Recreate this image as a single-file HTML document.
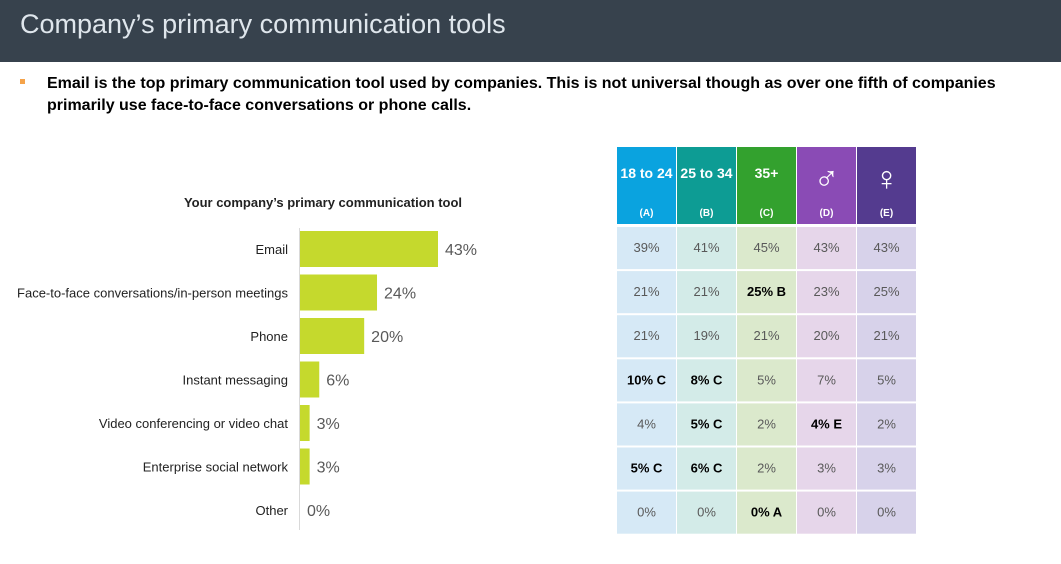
<!DOCTYPE html>
<html><head><meta charset="utf-8">
<style>
body{margin:0;width:1061px;height:564px;background:#fff;overflow:hidden;font-family:"Liberation Sans",sans-serif;}
svg{display:block}
</style></head><body>
<svg id="c" width="1061" height="564" xmlns="http://www.w3.org/2000/svg">
<rect x="0" y="0" width="1061" height="62" fill="#37424d"/>
<text x="20" y="33" font-size="27" fill="#dfe6ec">Company’s primary communication tools</text>
<rect x="20" y="79" width="5" height="5" fill="#f5a34a"/>
<text x="47" y="88" font-size="16" font-weight="bold" fill="#000">Email is the top primary communication tool used by companies. This is not universal though as over one fifth of companies</text>
<text x="47" y="110" font-size="16" font-weight="bold" fill="#000">primarily use face-to-face conversations or phone calls.</text>
<text x="323" y="207" font-size="13" font-weight="bold" fill="#222" text-anchor="middle">Your company’s primary communication tool</text>
<line x1="299.5" y1="228" x2="299.5" y2="530" stroke="#d9d9d9"/>
<g id="bars"></g>
<g id="table"></g>
</svg>
<script>
const categories=["Email","Face-to-face conversations/in-person meetings","Phone","Instant messaging","Video conferencing or video chat","Enterprise social network","Other"];
const values=[43,24,20,6,3,3,0];
const colHeaders=["18 to 24","25 to 34","35+","♂","♀"];
const colLetters=["(A)","(B)","(C)","(D)","(E)"];
const tableVals=[
["39%","41%","45%","43%","43%"],
["21%","21%","25% B","23%","25%"],
["21%","19%","21%","20%","21%"],
["10% C","8% C","5%","7%","5%"],
["4%","5% C","2%","4% E","2%"],
["5% C","6% C","2%","3%","3%"],
["0%","0%","0% A","0%","0%"]];
const NS="http://www.w3.org/2000/svg";
function mk(t,a,p){const e=document.createElementNS(NS,t);for(const k in a)e.setAttribute(k,a[k]);p.appendChild(e);return e;}
const x0=300,scale=138/43,yTop=249,step=43.5,bh=36;
const xS=v=>x0+v*scale, yS=i=>yTop+i*step;
const bars=document.getElementById('bars');
categories.forEach((c,i)=>{
 const r=mk('rect',{x:x0,y:yS(i)-bh/2,width:Math.max(xS(values[i])-x0,0),height:bh,fill:'#c5d92d'},bars);
 
 
 const l=mk('text',{x:288,y:yS(i)+5,'font-size':13,'text-anchor':'end',fill:'#222'},bars);l.textContent=c;
 
 
 const v=mk('text',{x:xS(values[i])+7,y:yS(i)+6,'font-size':16,fill:'#595959'},bars);v.textContent=values[i]+'%';
 
 
});
const tb=document.getElementById('table');
const colX=[617,677,737,797,857],cw=59;
const headCol=["#0aa3df","#0d9c94","#33a12e","#8a4bb5","#543b8f"];
const cellCol=["#d6e9f6","#d3ebe8","#dbe9cc","#e6d6ea","#d7d2ea"];
colHeaders.forEach((h,j)=>{
 const r=mk('rect',{x:colX[j],y:147,width:cw,height:77,fill:headCol[j]},tb);
 
 
 const sym=j>=3;
 const t=mk('text',{x:colX[j]+cw/2,y:sym?190:178,'font-size':sym?34:14,'font-weight':sym?'normal':'bold','text-anchor':'middle',fill:'#fff'},tb);t.textContent=h;
 
 
 const s=mk('text',{x:colX[j]+cw/2,y:216,'font-size':10,'font-weight':'bold','text-anchor':'middle',fill:'#fff'},tb);s.textContent=colLetters[j];
 
 
});
const rowH=44.1,ry0=227;
tableVals.forEach((row,i)=>{row.forEach((v,j)=>{
 const r=mk('rect',{x:colX[j],y:ry0+i*rowH,width:cw,height:rowH-2,fill:cellCol[j]},tb);
 
 
 const b=v.includes(' ');
 const t=mk('text',{x:colX[j]+cw/2,y:ry0+i*rowH+25,'font-size':13,'font-weight':b?'bold':'normal','text-anchor':'middle',fill:b?'#000':'#595959'},tb);t.textContent=v;
 
 
});});
</script>
</body></html>
